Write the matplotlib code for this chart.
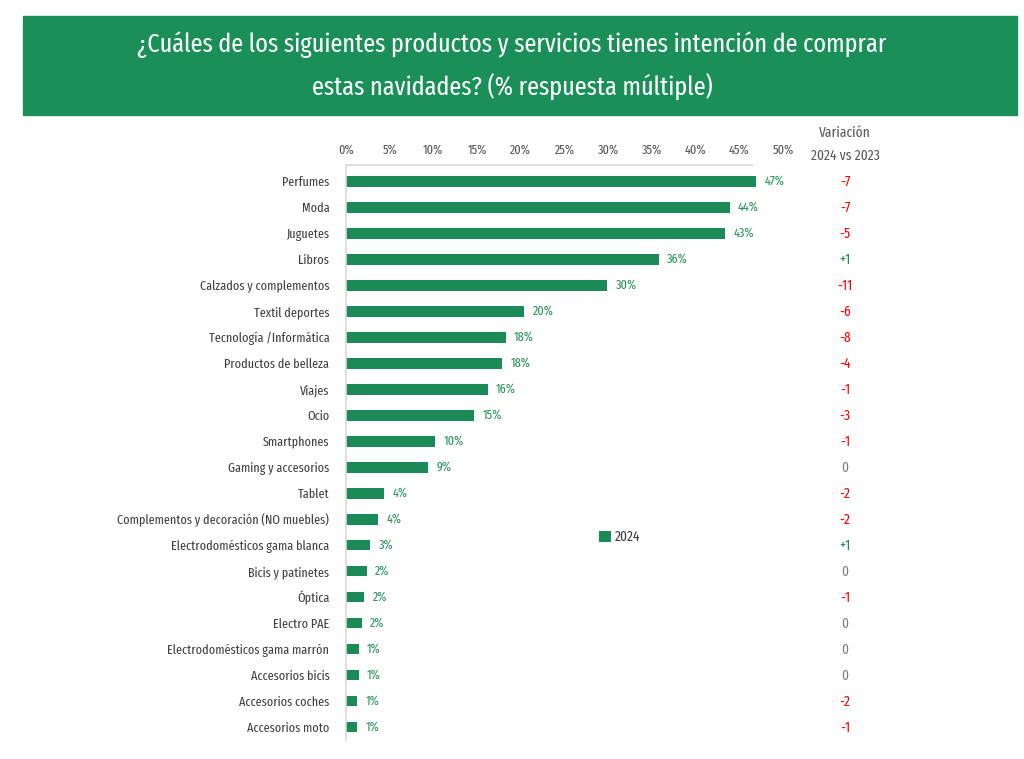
import matplotlib
matplotlib.use('Agg')
import matplotlib.pyplot as plt
from matplotlib.patches import Rectangle

plt.rcParams['font.family'] = ['Fira Sans Extra Condensed', 'DejaVu Sans']

categories = ['Perfumes', 'Moda', 'Juguetes', 'Libros', 'Calzados y complementos',
              'Textil deportes', 'Tecnología /Informática', 'Productos de belleza',
              'Viajes', 'Ocio', 'Smartphones', 'Gaming y accesorios', 'Tablet',
              'Complementos y decoración (NO muebles)', 'Electrodomésticos gama blanca',
              'Bicis y patinetes', 'Óptica', 'Electro PAE', 'Electrodomésticos gama marrón',
              'Accesorios bicis', 'Accesorios coches', 'Accesorios moto']
values_2024 = [46.9, 43.9, 43.4, 35.8, 29.9, 20.4, 18.3, 17.9, 16.2, 14.7, 10.2, 9.4,
               4.4, 3.7, 2.8, 2.4, 2.1, 1.8, 1.45, 1.45, 1.3, 1.3]
variation = [-7, -7, -5, 1, -11, -6, -8, -4, -1, -3, -1, 0, -2, -2, 1, 0, -1, 0, 0, 0, -2, -1]
x_ticks = [0, 5, 10, 15, 20, 25, 30, 35, 40, 45, 50]

GREEN = '#1b8a56'
GRAY = '#404040'

fig = plt.figure(figsize=(10.24, 7.59), dpi=100)

# title banner
fig.patches.append(Rectangle((23 / 1024, 1 - 115 / 759), (1017 - 23) / 1024, (115 - 16) / 759,
                             transform=fig.transFigure, color='#1a9058', zorder=0))
fig.text(0.5, 1 - 45 / 759, '¿Cuáles de los siguientes productos y servicios tienes intención de comprar',
         color='white', fontsize=19, ha='center', va='center')
fig.text(0.5, 1 - 87 / 759, 'estas navidades? (% respuesta múltiple)',
         color='white', fontsize=19, ha='center', va='center')

ax = fig.add_axes([346 / 1024, 1 - 740 / 759, (783 - 346) / 1024, (740 - 165) / 759])
n = len(categories)
ypos = list(range(n))
ax.barh(ypos, values_2024, height=0.42, color=GREEN, label='2024')
ax.set_ylim(n - 0.5, -0.62)
ax.set_xlim(0, 50)

for y, v in zip(ypos, values_2024):
    ax.annotate(f'{round(v)}%', (v, y), xytext=(6, 0), textcoords='offset points',
                color='#239359', fontsize=9.5, va='center', ha='left')

ax.xaxis.tick_top()
ax.set_xticks(x_ticks)
ax.set_xticklabels([f'{t}%' for t in x_ticks], fontsize=9.5, color='#555555')
ax.tick_params(axis='x', length=0, pad=6.5)
ax.set_yticks(ypos)
ax.set_yticklabels(categories, fontsize=9.5, color=GRAY)
ax.tick_params(axis='y', length=0, pad=12)

for s in ['right', 'bottom']:
    ax.spines[s].set_visible(False)
for s in ['top', 'left']:
    ax.spines[s].set_color('#d9d9d9')
    ax.spines[s].set_linewidth(1.2)
ax.spines['top'].set_bounds(0, 46.5)

# variation column
vx = 845 / 1024
fig.text(vx, 1 - 133 / 759, 'Variación', fontsize=10.5, color='#595959', ha='center', va='center')
fig.text(vx, 1 - 156 / 759, '2024 vs 2023', fontsize=10.5, color='#595959', ha='center', va='center')
trans = matplotlib.transforms.blended_transform_factory(fig.transFigure, ax.transData)
for y, d in zip(ypos, variation):
    if d < 0:
        txt, col = f'{d}', '#ff0000'
    elif d > 0:
        txt, col = f'+{d}', '#1b8a56'
    else:
        txt, col = '0', '#808080'
    ax.text(vx, y + 0.04, txt, transform=trans, color=col, fontsize=10.5,
            ha='center', va='center', clip_on=False)

leg = ax.legend(loc='center', bbox_to_anchor=(620 / 1024, 1 - 537 / 759),
                bbox_transform=fig.transFigure, frameon=False, fontsize=10.5,
                handlelength=0.8, handleheight=0.8, handletextpad=0.3)
for t in leg.get_texts():
    t.set_color(GRAY)

fig.savefig('out.png', dpi=100, facecolor='white')
